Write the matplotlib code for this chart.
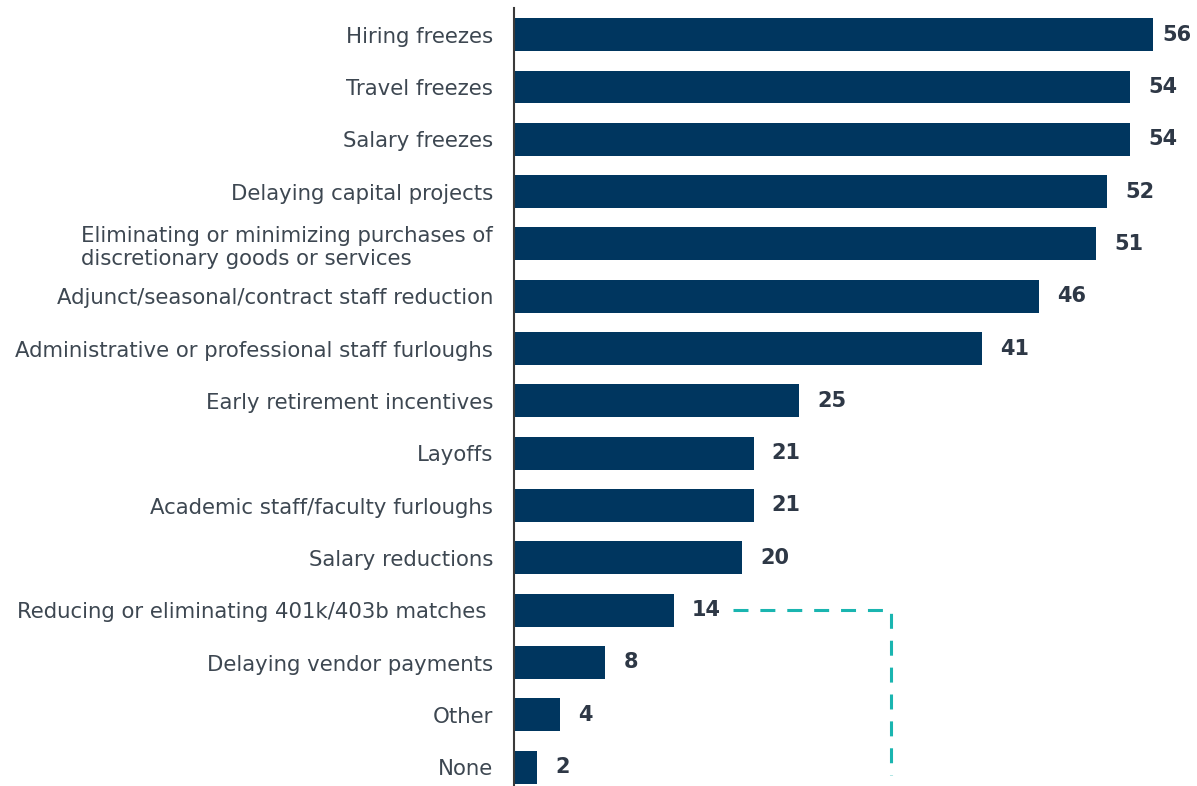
import matplotlib.pyplot as plt
from matplotlib.transforms import ScaledTranslation

categories = [
    "Hiring freezes",
    "Travel freezes",
    "Salary freezes",
    "Delaying capital projects",
    "Eliminating or minimizing purchases of\ndiscretionary goods or services",
    "Adjunct/seasonal/contract staff reduction",
    "Administrative or professional staff furloughs",
    "Early retirement incentives",
    "Layoffs",
    "Academic staff/faculty furloughs",
    "Salary reductions",
    "Reducing or eliminating 401k/403b matches ",
    "Delaying vendor payments",
    "Other",
    "None",
]
values = [56, 54, 54, 52, 51, 46, 41, 25, 21, 21, 20, 14, 8, 4, 2]

# bracket drawn next to the 401k row
bracket_x = [19.2, 33.0, 33.0]
bracket_y = [11, 11, 14.15]

bar_color = "#00365f"
label_color = "#3d4751"
value_color = "#2e3846"
teal = "#1ab5b0"

fig = plt.figure(figsize=(11.97, 7.86), dpi=100)
ax = fig.add_axes([514 / 1197, 0, 683 / 1197, 1 - 8 / 786])

pos = list(range(len(categories)))
ax.barh(pos, values, height=0.63, color=bar_color)
ax.set_xlim(0, 59.86)
ax.set_ylim(14.36, -0.51)

# nudge text up a couple of pixels
up = ScaledTranslation(0, 2 / 100, fig.dpi_scale_trans)

ax.set_yticks(pos)
ax.set_yticklabels(categories, fontsize=15.3, color=label_color)
for lab in ax.get_yticklabels():
    lab.set_multialignment("left")
    lab.set_verticalalignment("center_baseline")
    lab.set_transform(lab.get_transform() + up)
ax.tick_params(axis="y", length=0, pad=15)
ax.set_xticks([])

for s in ["top", "right", "bottom"]:
    ax.spines[s].set_visible(False)
ax.spines["left"].set_color("#3a3a3a")
ax.spines["left"].set_linewidth(1.5)

vmax = max(values)
for p, v in zip(pos, values):
    off = 7 if v == vmax else 13
    ax.annotate(str(v), (v, p), xytext=(off, 1.5), textcoords="offset points",
                va="center_baseline", ha="left", fontsize=15, fontweight="bold",
                color=value_color)

ax.plot(bracket_x, bracket_y, color=teal, linewidth=2.2,
        dashes=(4.9, 3.9), clip_on=False)

fig.savefig("out.png", dpi=100)
